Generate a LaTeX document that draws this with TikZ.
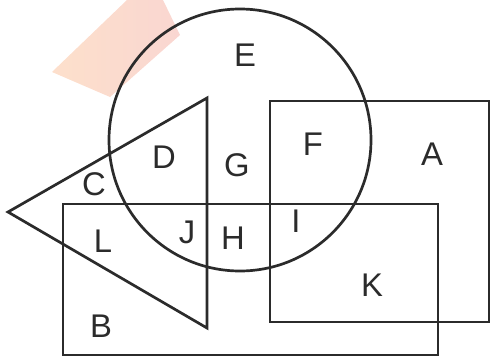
\documentclass[tikz,border=0pt]{standalone}
\usepackage{fontspec}
\setmainfont{Liberation Sans}
\usepackage{tikz}
\definecolor{inkgray}{HTML}{2B2B2B}
\definecolor{peachl}{HTML}{FDDCC6}
\definecolor{peachr}{HTML}{F9D2CC}
\tikzset{
  region/.style={font=\fontsize{28}{30}\selectfont, text=inkgray, inner sep=0pt},
  outline/.style={draw=inkgray, line width=2.3pt, line join=miter}
}

\begin{document}
\begin{tikzpicture}[x=0.03cm, y=-0.03cm]
  \useasboundingbox (0,0) rectangle (490,357);
  \clip (0,0) rectangle (490,357);
  % faint mark behind the circle
  \shade[left color=peachl, right color=peachr, opacity=0.9] (52,72) -- (127,0) -- (163,0) -- (180,35) -- (110,97) -- cycle;
  \draw[outline] (270,101) rectangle (489,322);
  \draw[outline] (63,204) rectangle (438,355);
  \draw[outline] (8,212) -- (207,98) -- (207,328) -- cycle;
  \draw[outline] (240,140) circle[radius=131];
  \node[region] (E) at (245,55) {E};
  \node[region] (D) at (164,157) {D};
  \node[region] (G) at (237,165) {G};
  \node[region] (F) at (313,144) {F};
  \node[region] (A) at (432,154) {A};
  \node[region] (C) at (94,184) {C};
  \node[region] (L) at (103,241) {L};
  \node[region] (J) at (187,232) {J};
  \node[region] (H) at (233,238) {H};
  \node[region] (I) at (296,221) {I};
  \node[region] (K) at (372,285) {K};
  \node[region] (B) at (101,326) {B};
\end{tikzpicture}
\end{document}
